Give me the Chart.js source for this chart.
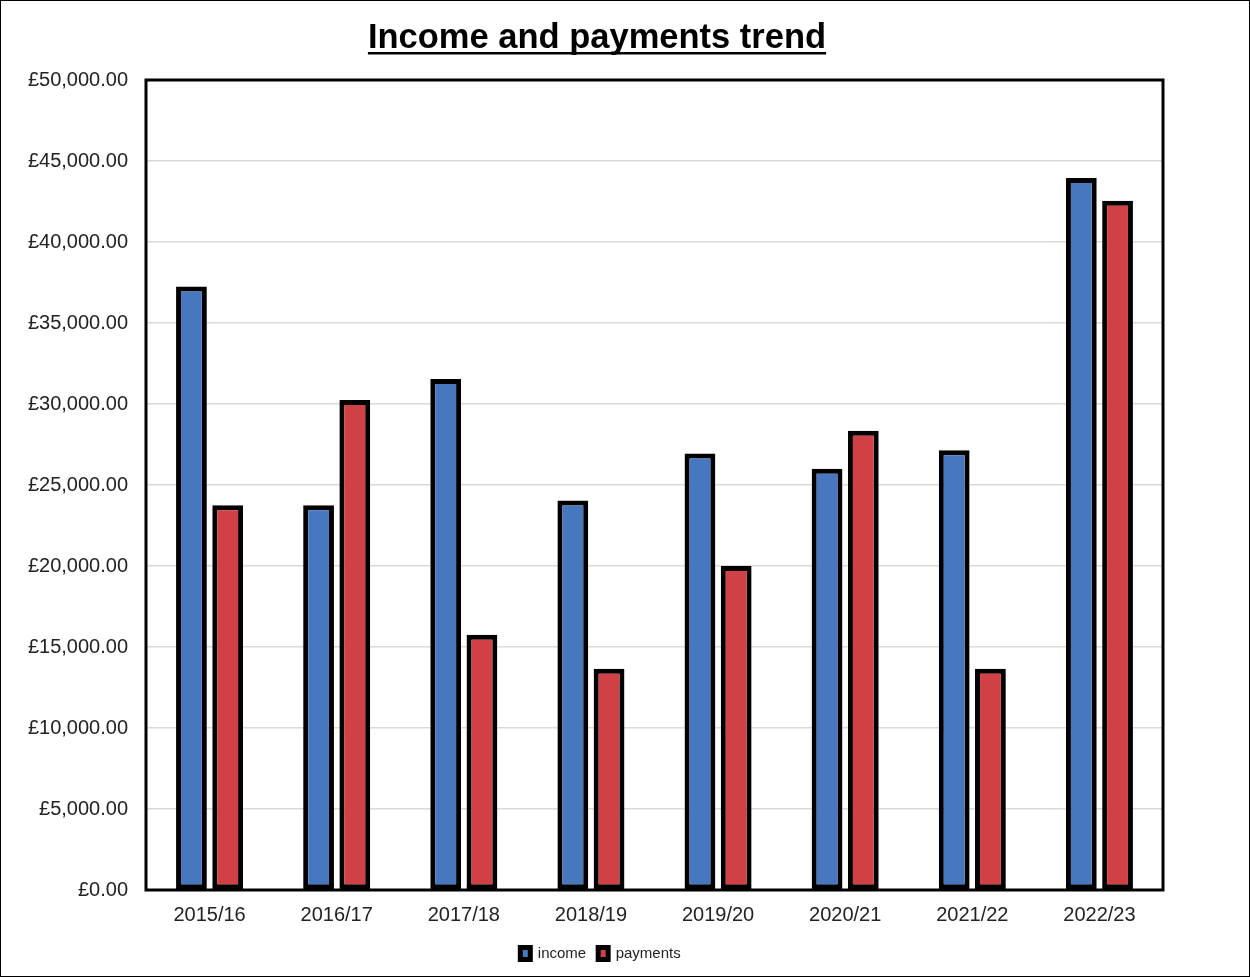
<!DOCTYPE html>
<html>
<head>
<meta charset="utf-8">
<script src="https://cdn.jsdelivr.net/npm/chart.js@4"></script>
<style>
  html, body { margin: 0; padding: 0; background: #fff; }
  #wrap { position: relative; width: 1250px; height: 977px; }
  #edge { position: absolute; left: 0; top: 0; width: 1250px; height: 977px; box-sizing: border-box; border: 1.5px solid #000; pointer-events: none; }
  canvas { display: block; }
</style>
</head>
<body>
<div id="wrap"><canvas id="chart" width="1250" height="977"></canvas><div id="edge"></div></div>
<script>
// chart data
var years = ["2015/16", "2016/17", "2017/18", "2018/19", "2019/20", "2020/21", "2021/22", "2022/23"];
var income = [37250, 23750, 31550, 24050, 26950, 26000, 27150, 43950];
var payments = [23750, 30250, 15750, 13650, 20000, 28350, 13650, 42550];
var yTicks = [0, 5000, 10000, 15000, 20000, 25000, 30000, 35000, 40000, 45000, 50000];

var chartTitle = "Income and payments trend";
var FONT = "'Liberation Sans', Arial, Helvetica, sans-serif";

function money(v)
{
        return "£" + Number(v).toLocaleString("en-GB", { minimumFractionDigits: 2, maximumFractionDigits: 2 });
}

// frame round the plot area + underlined title, legend nudged
var framePlugin = {
        id: "frame",
        afterLayout: function(chart)
        {
                if (chart.legend) {
                        chart.legend.left += 19;
                        chart.legend.right += 19;
                        chart.legend.top -= 6;
                        chart.legend.bottom -= 6;
                }
        },
        afterDraw: function(chart)
        {
                var ctx = chart.ctx;
                var a = chart.chartArea;
                ctx.save();
                ctx.strokeStyle = "#000";
                ctx.lineWidth = 3;
                ctx.strokeRect(a.left, a.top, a.right - a.left, a.bottom - a.top);

                ctx.font = "bold 34.5px " + FONT;
                ctx.fillStyle = "#000";
                ctx.textAlign = "center";
                ctx.textBaseline = "alphabetic";
                var cx = 597;
                ctx.fillText(chartTitle, cx, 48);
                var w = ctx.measureText(chartTitle).width;
                ctx.fillRect(cx - w / 2, 52, w, 2.5);
                ctx.restore();
        }
};

var ctx = document.getElementById("chart").getContext("2d");
var chart = new Chart(ctx, {
        type: "bar",
        data: {
                labels: years,
                datasets: [
                        {
                                label: "income",
                                data: income,
                                backgroundColor: "#4778bf",
                                borderColor: "#000",
                                borderWidth: 5,
                                borderSkipped: false
                        },
                        {
                                label: "payments",
                                data: payments,
                                backgroundColor: "#d04044",
                                borderColor: "#000",
                                borderWidth: 5,
                                borderSkipped: false
                        }
                ]
        },
        options: {
                responsive: false,
                animation: false,
                devicePixelRatio: 1,
                layout: { padding: { top: 80, right: 87, bottom: 0, left: 0 } },
                categoryPercentage: 0.57,
                barPercentage: 0.85,
                plugins: {
                        title: { display: false },
                        tooltip: { enabled: false },
                        legend: {
                                position: "bottom",
                                labels: {
                                        font: { family: FONT, size: 15 },
                                        color: "#222",
                                        boxWidth: 10,
                                        boxHeight: 12,
                                        padding: 12
                                }
                        }
                },
                scales: {
                        x: {
                                grid: { display: false, drawTicks: false },
                                border: { display: false },
                                ticks: { font: { family: FONT, size: 20 }, color: "#222", padding: 13 }
                        },
                        y: {
                                min: 0,
                                max: 50000,
                                afterFit: function(scale) { scale.width = 146; },
                                afterBuildTicks: function(scale) {
                                        scale.ticks = yTicks.map(function(v) { return { value: v }; });
                                },
                                grid: { color: "#dadada", lineWidth: 1.5, drawTicks: false },
                                border: { display: false },
                                ticks: {
                                        font: { family: FONT, size: 20 },
                                        color: "#222",
                                        padding: 18,
                                        callback: function(v) { return money(v); }
                                }
                        }
                }
        },
        plugins: [framePlugin]
});
</script>
</body>
</html>
